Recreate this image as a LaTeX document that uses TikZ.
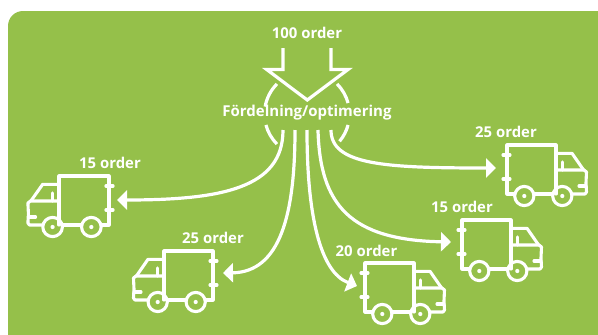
\documentclass[tikz,border=0pt]{standalone}
\usepackage{fontspec}
\setmainfont{Open Sans}
\usetikzlibrary{arrows.meta}
\definecolor{grn}{HTML}{95C04A}
\tikzset{
  lbl/.style={text=white,font=\fontsize{14.9}{16}\selectfont\bfseries,inner sep=0pt},
  ln/.style={draw=white,line width=3.2pt,line join=round,line cap=butt},
  tl/.style={draw=white,line width=3.1pt,line join=round,line cap=round},
  conn/.style={ln,-{Triangle[length=10pt,width=19pt]}},
  truck/.pic={
    \draw[tl] (7.5,49) -- (0,49) -- (0,0) -- (49,0) -- (49,49);
    \draw[tl] (27,49) -- (46,49);
    \draw[tl] (49,8.3) -- (65,8.3) -- (76.6,25);
    \draw[tl] (49,25) -- (77,25) -- (79.5,27) -- (79,38) -- (79.5,47) -- (78,49) -- (65,49);
    \draw[tl] (55.6,17) -- (55.6,25);
    \draw[tl] (72,41) -- (79,41);
    \draw[tl] (-4,10) -- (3,10);
    \draw[tl] (-4,34) -- (3,34);
    \draw[tl] (17.3,51) circle[radius=9.6];
    \draw[tl] (55.3,51) circle[radius=9.6];
    \fill[white] (17.3,51) circle[radius=2.1];
    \fill[white] (55.3,51) circle[radius=2.1];
  }
}
\begin{document}
\begin{tikzpicture}[x=1pt,y=-1pt]
\useasboundingbox (0,0) rectangle (598,335);
\fill[white] (0,0) rectangle (598,335);
\fill[grn,rounded corners=15pt] (8,11) rectangle (640,380);
% trucks
\pic at (507,145) {truck};
\pic at (462,220) {truck};
\pic at (365,263) {truck};
\pic[xscale=-1.02] at (109,176) {truck};
\pic[xscale=-1] at (213,251) {truck};
% labels
\node[lbl] (top) at (307,33) {100 order};
\node[lbl,font=\fontsize{15}{16}\selectfont\bfseries] (fo) at (307,113) {Fördelning/optimering};
\node[lbl] (l15) at (110,163) {15 order};
\node[lbl] (r25) at (506,132) {25 order};
\node[lbl] (r15) at (462,207) {15 order};
\node[lbl] (m20) at (366.5,250.5) {20 order};
\node[lbl] (l25) at (213,237.5) {25 order};
% big arrow
\draw[ln,line join=miter] (283,48) -- (283,69.5) -- (266.7,69.5) -- (307.3,100) -- (348,69.5) -- (331,69.5) -- (331,48);
% circle arcs
\coordinate (c) at (307,114);
\foreach \a/\b in {225/190,165/135,-45/-15,15/40}
  \draw[ln] ([shift={(\a:42.5)}]c) arc[start angle=\a,end angle=\b,radius=42.5];
% connectors
\coordinate (s1) at (283,130);
\coordinate (s2) at (295,130);
\coordinate (s3) at (307,130);
\coordinate (s4) at (318,130);
\coordinate (s5) at (331,130);
\coordinate (e1) at (117,200);
\coordinate (e2) at (223,273);
\coordinate (e3) at (357,286);
\coordinate (e4) at (451,242);
\coordinate (e5) at (496,168);
\draw[conn] (s1) .. controls (283,188) and (222,200) .. (e1);
\draw[conn] (s2) .. controls (295,215) and (280,272) .. (e2);
\draw[conn] (s3) .. controls (307,215) and (320,272) .. (e3);
\draw[conn] (s4) .. controls (320,205) and (350,240) .. (e4);
\draw[conn] (s5) .. controls (331,165) and (385,168) .. (e5);
\end{tikzpicture}
\end{document}
